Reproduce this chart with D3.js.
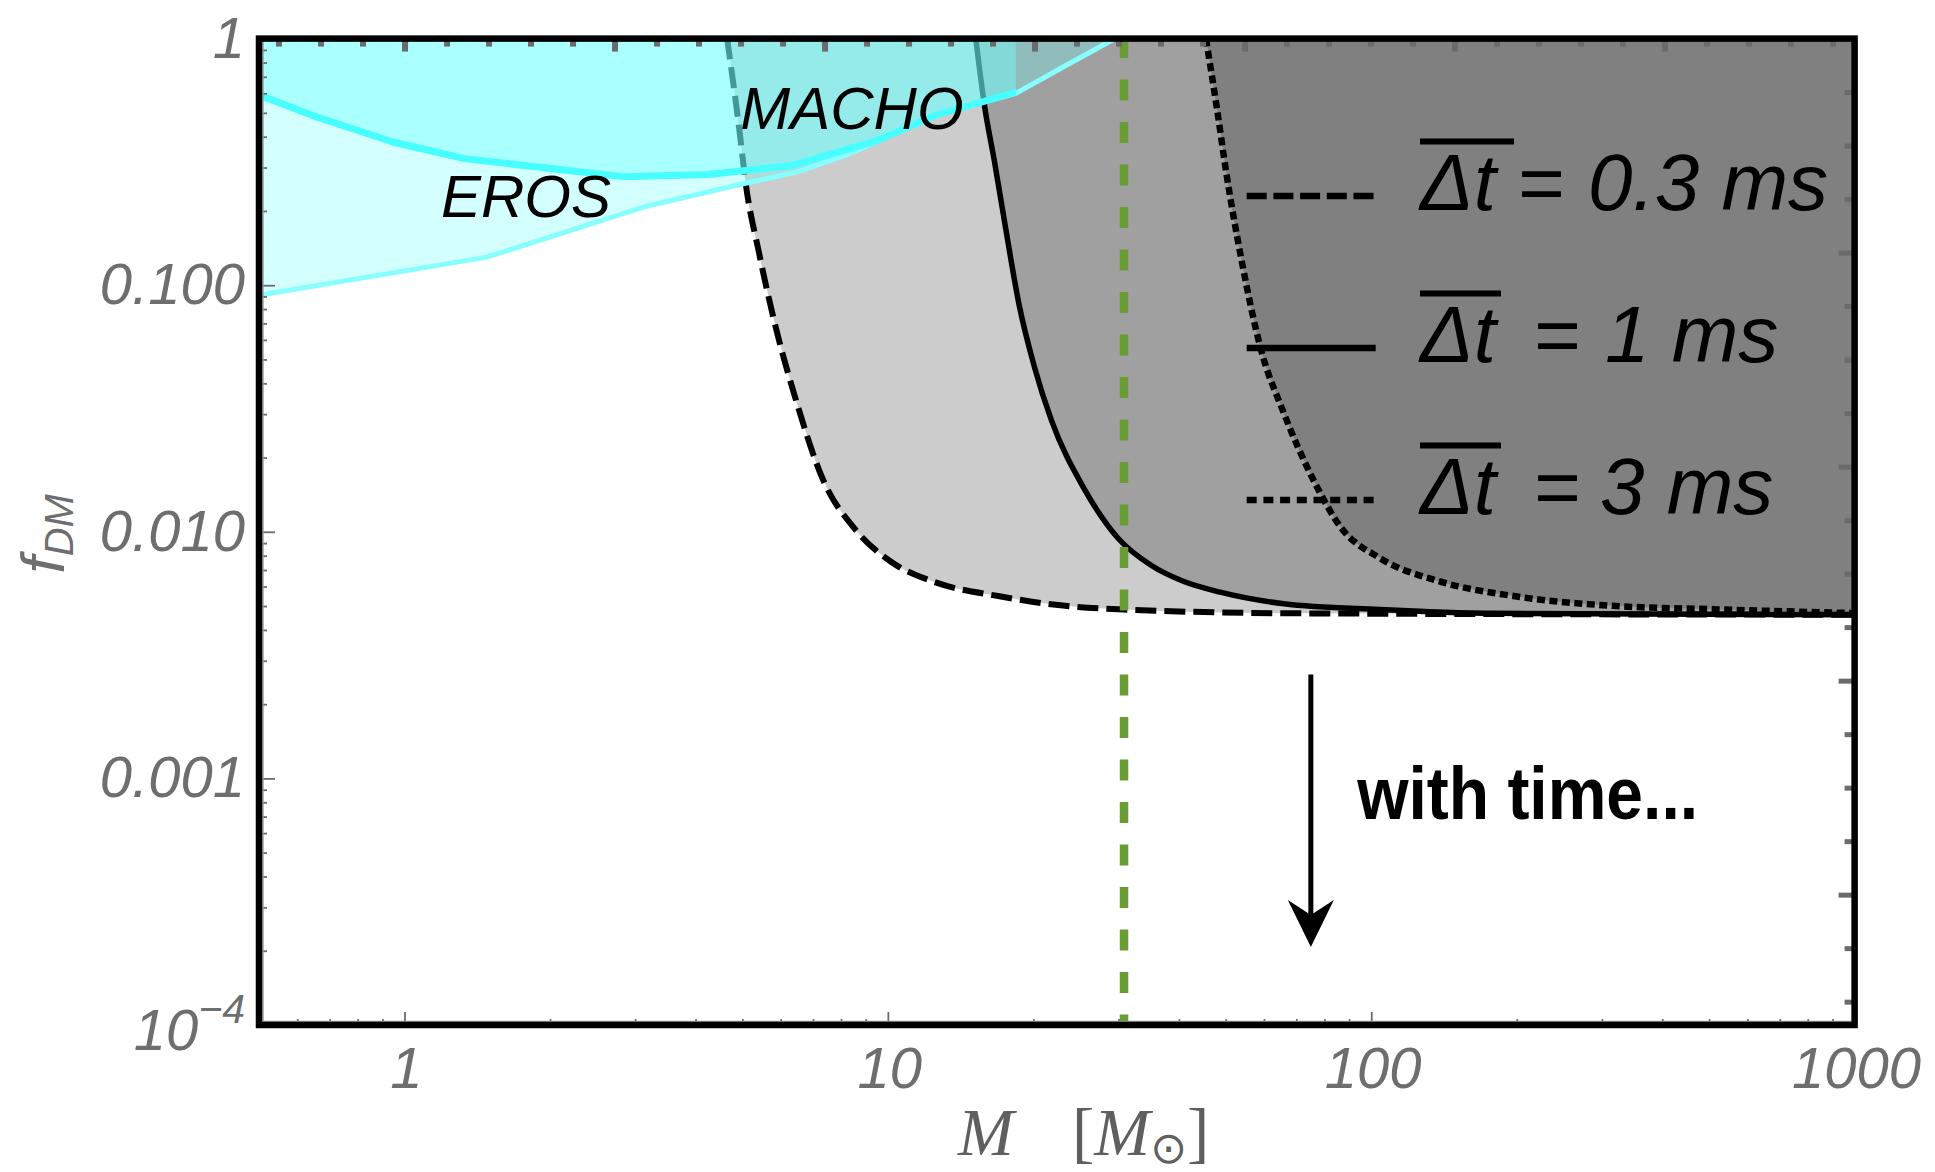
<!DOCTYPE html>
<html><head><meta charset="utf-8">
<script src="https://cdn.jsdelivr.net/npm/d3@7"></script>
<style>
html,body{margin:0;padding:0;background:#fff;}
svg{display:block;}
</style></head>
<body>
<svg id="chart" width="1935" height="1172"></svg>
<script>
// ================= DATA =================
const massDomain = [0.5, 1000];          // M [M_sun]
const fDomain = [1e-4, 1];               // f_DM
const xMajorTicks = [1, 10, 100, 1000];
const xTickLabels = ["1", "10", "100", "1000"];
const yMajorTicks = [1, 0.1, 0.01, 0.001, 0.0001];
const yTickLabels = ["1", "0.100", "0.010", "0.001", "10^-4"];

// lensing constraint curves [M, f]
const curve03ms = [[4.65,1],[4.94,0.411],[5.08,0.259],[5.41,0.136],[5.87,0.0667],[6.43,0.0351],
  [7.31,0.0166],[8.61,0.0101],[10.15,0.00756],[12.6,0.00622],[16.9,0.00549],[23.0,0.00502],
  [30.8,0.00484],[71,0.00467],[1000,0.00461]];
const curve1ms = [[15.2,1],[15.86,0.528],[16.6,0.321],[17.54,0.1685],[18.7,0.0826],[20.1,0.0466],
  [21.8,0.0283],[25.5,0.0149],[30.0,0.00937],[35.1,0.0073],[40.6,0.00633],[48.7,0.00569],
  [65.9,0.00511],[104,0.00484],[180,0.00467],[1000,0.00461]];
const curve3ms = [[45.5,1],[47.9,0.528],[50.1,0.288],[53.9,0.1267],[59.0,0.0558],[65.9,0.0304],
  [76.2,0.016],[86.6,0.0104],[104,0.00784],[137,0.00633],[197,0.00549],[310,0.00502],
  [536,0.00484],[1000,0.00468]];

// microlensing bounds [M, f]
const erosBoundary = [[0.5,0.091],[1.48,0.130],[3.12,0.2075],[5.02,0.258],[6.48,0.2875],
  [8.33,0.341],[12.6,0.49],[18.4,0.60],[23.0,0.765],[29.5,1]];
const machoBoundary = [[0.5,0.59],[0.66,0.48],[0.95,0.38],[1.33,0.326],[2.85,0.275],[4.26,0.281],
  [6.36,0.306],[8.33,0.358],[9.43,0.383],[12.6,0.49],[18.4,0.606]];

const ligoMass = 30.8;
const arrowMass = 75;
const arrowFrom = 0.00264;
const arrowTo = 0.000207;
const legendLabels = ["0.3 ms", "1 ms", "3 ms"];
const regionLabels = ["MACHO", "EROS"];
const regionLabelPos = [[4.95, 0.431], [1.19, 0.189]];   // [M, f] of label baseline start
const annotation = "with time...";
const annotationPos = [93.5, 0.000684];

// ================= SETUP =================
const svg = d3.select("#chart");
const W = 1935, H = 1172;
const x = d3.scaleLog().domain(massDomain).range([259, 1854.6]);
const y = d3.scaleLog().domain(fDomain).range([1025, 38.6]);
const [X0, X1] = x.range();
const [Y1, Y0] = y.range();

svg.append("rect").attr("width", W).attr("height", H).attr("fill", "#fff");

const defs = svg.append("defs");
defs.append("clipPath").attr("id", "plotclip").append("rect")
  .attr("x", X0).attr("y", Y0).attr("width", X1 - X0).attr("height", Y1 - Y0);
defs.append("filter").attr("id", "glow").attr("x", "-200%").attr("width", "500%")
  .append("feGaussianBlur").attr("stdDeviation", 6);

const plot = svg.append("g").attr("clip-path", "url(#plotclip)");

// ---- gray exclusion areas ----
const areaTop = d3.area().x(d => x(d[0])).y0(y(1)).y1(d => y(d[1])).curve(d3.curveMonotoneX);
const lineM = d3.line().x(d => x(d[0])).y(d => y(d[1])).curve(d3.curveMonotoneX);

const curves = [
  {data: curve03ms, fill: "#cccccc", dash: "21 8", width: 6,   legendDash: "20 6.7"},
  {data: curve1ms,  fill: "#a0a0a0", dash: null,   width: 5.5, legendDash: null},
  {data: curve3ms,  fill: "#808080", dash: "8 4.5", width: 6.5, legendDash: "10 6.7"}
];
curves.forEach(c => {
  plot.append("path").attr("d", areaTop(c.data)).attr("fill", c.fill);
});
curves.forEach(c => {
  plot.append("path").attr("d", lineM(c.data)).attr("fill", "none")
    .attr("stroke", "#000").attr("stroke-width", c.width)
    .attr("stroke-dasharray", c.dash);
});

// ---- EROS / MACHO translucent regions ----
const areaLin = d3.area().x(d => x(d[0])).y0(y(1)).y1(d => y(d[1]));
const lineLin = d3.line().x(d => x(d[0])).y(d => y(d[1]));
plot.append("path").attr("d", areaLin(erosBoundary)).attr("fill", "#70ffff").attr("fill-opacity", 0.3);
plot.append("path").attr("d", areaLin(machoBoundary)).attr("fill", "#70ffff").attr("fill-opacity", 0.42);
plot.append("path").attr("d", lineLin(erosBoundary)).attr("fill", "none")
  .attr("stroke", "#88ffff").attr("stroke-width", 5).attr("stroke-linejoin", "round");
plot.append("path").attr("d", lineLin(machoBoundary)).attr("fill", "none")
  .attr("stroke", "#48ffff").attr("stroke-width", 7).attr("stroke-linejoin", "round");

regionLabels.forEach((t, i) => {
  plot.append("text").attr("x", x(regionLabelPos[i][0])).attr("y", y(regionLabelPos[i][1]))
    .attr("font-family", "Liberation Sans, Arial, sans-serif").attr("font-style", "italic")
    .attr("font-size", 60).attr("fill", "#000").text(t);
});

// ---- LIGO mass line ----
plot.append("line").attr("x1", x(ligoMass)).attr("x2", x(ligoMass)).attr("y1", y(1)).attr("y2", y(1e-4))
  .attr("stroke", "#666").attr("stroke-opacity", 0.45).attr("stroke-width", 18).attr("filter", "url(#glow)");
plot.append("line").attr("x1", x(ligoMass)).attr("x2", x(ligoMass)).attr("y1", y(1) - 1.5).attr("y2", y(1e-4))
  .attr("stroke", "#699c34").attr("stroke-width", 8.5).attr("stroke-dasharray", "21 21.5");

// ---- legend ----
const legX = 1246.7, legLen = 129, legBase = 210, legStep = 152;
const textX = 1420;
const eqX = [1517, 1533, 1533];
const valX = [1588, 1605, 1600];
const barEnd = [1514, 1501, 1501];
legendLabels.forEach((lab, i) => {
  const by = legBase + i * legStep;
  svg.append("line").attr("x1", legX).attr("x2", legX + legLen).attr("y1", by - 14).attr("y2", by - 14)
    .attr("stroke", "#000").attr("stroke-width", 6.5).attr("stroke-dasharray", curves[i].legendDash);
  const t = svg.append("text").attr("y", by)
    .attr("font-family", "Liberation Sans, Arial, sans-serif").attr("font-style", "italic")
    .attr("font-size", 80).attr("fill", "#000");
  t.append("tspan").attr("x", textX).text("\u0394t");
  t.append("tspan").attr("x", eqX[i]).text("=");
  t.append("tspan").attr("x", valX[i]).text(lab);
  svg.append("line").attr("x1", textX).attr("x2", barEnd[i]).attr("y1", by - 68.5).attr("y2", by - 68.5)
    .attr("stroke", "#000").attr("stroke-width", 6);
});

// ---- arrow + annotation ----
const ax = x(arrowMass), ay0 = y(arrowFrom), ay1 = y(arrowTo);
svg.append("line").attr("x1", ax).attr("x2", ax).attr("y1", ay0).attr("y2", ay1 - 30)
  .attr("stroke", "#000").attr("stroke-width", 5);
svg.append("path")
  .attr("d", `M${ax},${ay1} L${ax - 23},${ay1 - 47} L${ax},${ay1 - 32} L${ax + 23},${ay1 - 47} Z`)
  .attr("fill", "#000");
svg.append("text")
  .attr("transform", `translate(${x(annotationPos[0])},${y(annotationPos[1])}) scale(0.88,1)`)
  .attr("font-family", "Liberation Sans, Arial, sans-serif").attr("font-weight", "bold")
  .attr("font-size", 75).attr("fill", "#000").text(annotation);

// ================= AXES =================
const tickGray = "#6b6b6b";
function minorLog(lo, hi) {
  const out = [];
  for (let e = Math.floor(Math.log10(lo)); e <= Math.ceil(Math.log10(hi)); e++) {
    for (let k = 2; k <= 9; k++) {
      const v = k * Math.pow(10, e);
      if (v > lo * 1.0001 && v < hi * 0.9999) out.push(v);
    }
  }
  return out;
}
function drawTicks(axis, transform, width, color) {
  const g = svg.append("g").attr("transform", transform).call(axis);
  g.select(".domain").remove();
  g.selectAll(".tick text").remove();
  g.selectAll(".tick line").attr("stroke", color).attr("stroke-width", width);
  return g;
}
// left (inward, thin)
drawTicks(d3.axisRight(y).tickValues(yMajorTicks).tickSize(16), `translate(${X0},0)`, 1.8, tickGray);
drawTicks(d3.axisRight(y).tickValues(minorLog(1e-4, 1)).tickSize(8), `translate(${X0},0)`, 1.8, tickGray);
// bottom (inward, thin)
drawTicks(d3.axisTop(x).tickValues(xMajorTicks).tickSize(13), `translate(0,${Y1})`, 1.8, tickGray);
drawTicks(d3.axisTop(x).tickValues(minorLog(0.5, 1000)).tickSize(6), `translate(0,${Y1})`, 1.8, tickGray);
// thin gray inner axis lines
svg.append("line").attr("x1", X0 + 4).attr("x2", X1).attr("y1", Y1 - 3.5).attr("y2", Y1 - 3.5)
  .attr("stroke", "#999").attr("stroke-width", 1.5);
svg.append("line").attr("x1", X0 + 4).attr("x2", X0 + 4).attr("y1", Y0).attr("y2", Y1 - 3.5)
  .attr("stroke", "#999").attr("stroke-width", 1.5);

// top frame ticks (uniform, thick)
const topScale = d3.scaleLinear().domain([-0.693, 6.905]).range([X0, X1]);
const topMajor = d3.range(0, 7);
const topMinor = d3.range(-3, 35).map(k => k / 5).filter(v => Math.abs(v - Math.round(v)) > 1e-6);
drawTicks(d3.axisBottom(topScale).tickValues(topMajor).tickSize(13), `translate(0,${Y0})`, 6, tickGray);
drawTicks(d3.axisBottom(topScale).tickValues(topMinor).tickSize(8), `translate(0,${Y0})`, 6, tickGray);
// right frame ticks (uniform, thick)
const rightScale = d3.scaleLinear().domain([0, 4.609]).range([Y0, Y1]);
const rightMajor = d3.range(1, 5);
const rightMinor = d3.range(1, 19).map(k => k / 4).filter(v => Math.abs(v - Math.round(v)) > 1e-6);
drawTicks(d3.axisLeft(rightScale).tickValues(rightMajor).tickSize(16), `translate(${X1},0)`, 5, tickGray);
drawTicks(d3.axisLeft(rightScale).tickValues(rightMinor).tickSize(10), `translate(${X1},0)`, 5, tickGray);

// frame
svg.append("rect").attr("x", X0).attr("y", Y0).attr("width", X1 - X0).attr("height", Y1 - Y0)
  .attr("fill", "none").attr("stroke", "#000").attr("stroke-width", 6.5);

// tick labels
const labelFont = "Liberation Sans, Arial, sans-serif";
const labelGray = "#6e6e6e";
yMajorTicks.forEach((v, i) => {
  const lab = yTickLabels[i];
  const t = svg.append("text").attr("x", X0 - 14).attr("text-anchor", "end")
    .attr("font-family", labelFont).attr("font-style", "italic").attr("font-size", 58).attr("fill", labelGray);
  if (lab.includes("^")) {
    const [base, exp] = lab.split("^");
    t.attr("y", y(v) + 25);
    t.append("tspan").text(base);
    t.append("tspan").attr("font-size", 41).attr("dy", -27).text(exp.replace("-", "\u2212"));
  } else {
    t.attr("y", y(v) + 19).text(lab);
  }
});
xMajorTicks.forEach((v, i) => {
  svg.append("text").attr("x", x(v) + 2).attr("y", Y1 + 63).attr("text-anchor", "middle")
    .attr("font-family", labelFont).attr("font-style", "italic").attr("font-size", 58)
    .attr("fill", labelGray).text(xTickLabels[i]);
});

// axis titles
const yt = svg.append("text").attr("transform", `translate(64,${(Y0 + Y1) / 2 + 2}) rotate(-90)`)
  .attr("text-anchor", "middle").attr("font-family", labelFont).attr("font-style", "italic")
  .attr("fill", labelGray);
yt.append("tspan").attr("font-size", 62).text("f");
yt.append("tspan").attr("font-size", 40).attr("dy", 9).text("DM");

const xt = svg.append("text").attr("y", 1155)
  .attr("font-family", "Liberation Serif, 'DejaVu Serif', serif").attr("font-size", 67).attr("fill", "#5f5f5f");
xt.append("tspan").attr("x", 958).attr("font-style", "italic").text("M");
xt.append("tspan").attr("x", 1072).text("[");
xt.append("tspan").attr("font-style", "italic").text("M");
xt.append("tspan").attr("font-family", "DejaVu Sans, sans-serif").attr("font-size", 44).attr("dy", 8).text("\u2299");
xt.append("tspan").attr("dy", -8).text("]");
</script>
</body></html>
